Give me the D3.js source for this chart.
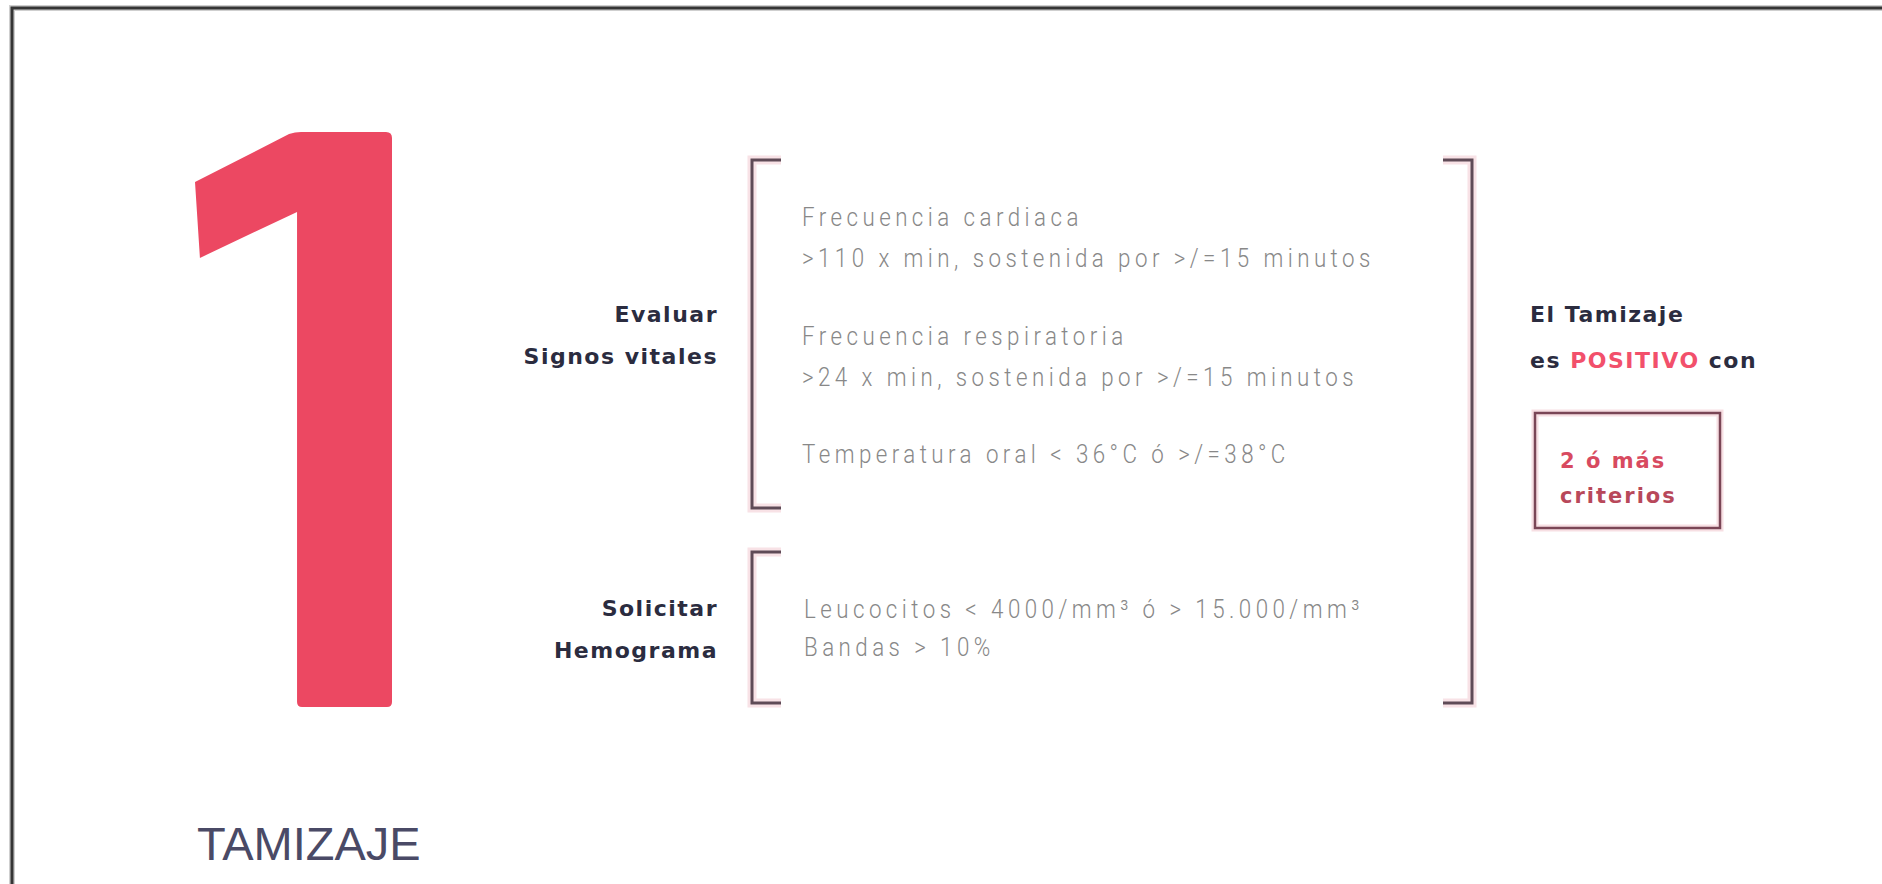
<!DOCTYPE html>
<html>
<head>
<meta charset="utf-8">
<script src="https://cdn.jsdelivr.net/npm/d3@7"></script>
<style>
	body { margin: 0; background: #fff; }
	svg { display: block; }
</style>
</head>
<body>
<svg id="chart"></svg>
<script>
// CONTENT
const stepNumber = '1';
const stepLabel = 'TAMIZAJE';
const groupLabels = [
	['Evaluar', 'Signos vitales'],
	['Solicitar', 'Hemograma'],
];
const vitalSigns = [
	['Frecuencia cardiaca', '>110 x min, sostenida por >/=15 minutos'],
	['Frecuencia respiratoria', '>24 x min, sostenida por >/=15 minutos'],
	['Temperatura oral < 36°C ó >/=38°C'],
];
const labTests = ['Leucocitos < 4000/mm³ ó > 15.000/mm³', 'Bandas > 10%'];
const resultLines = [
	[{ t: 'El Tamizaje' }],
	[{ t: 'es ' }, { t: 'POSITIVO', hi: true }, { t: ' con' }],
];
const thresholdLines = ['2 ó más', 'criterios'];

function onLoad () {
	const width = 1882, height = 884;
	const svg = d3.select('#chart')
		.attr('width', width)
		.attr('height', height);

	const red = '#ec4862';
	const ink = '#2b2c3f';
	const grey = '#888888';
	const bracketCol = '#5f4b57';
	const boldFont = "'DejaVu Sans', sans-serif";
	const lightFont = "Roboto, 'Liberation Sans', sans-serif";
	const squeeze = 0.86; // fake a condensed face

	// FRAME (only top + left edges are visible)
	svg.append('path')
		.attr('d', `M12,${height} V8 H${width}`)
		.attr('fill', 'none')
		.attr('stroke', '#cfcfcf')
		.attr('stroke-width', 6);
	svg.append('path')
		.attr('d', `M12,${height} V8 H${width}`)
		.attr('fill', 'none')
		.attr('stroke', '#353535')
		.attr('stroke-width', 3);

	// BIG "1"
	const gx = d3.scaleLinear().domain([0, 1]).range([195, 392]);
	const gy = d3.scaleLinear().domain([0, 1]).range([132, 707]);
	const stemL = gx(0.518), stemR = gx(1), top = gy(0), bot = gy(1);
	const p = d3.path();
	p.moveTo(gx(0), gy(0.087));
	p.lineTo(stemL - 8, top + 2);
	p.quadraticCurveTo(stemL - 2, top, stemL + 4, top);
	p.lineTo(stemR - 6, top);
	p.quadraticCurveTo(stemR, top, stemR, top + 6);
	p.lineTo(stemR, bot - 5);
	p.quadraticCurveTo(stemR, bot, stemR - 5, bot);
	p.lineTo(stemL + 5, bot);
	p.quadraticCurveTo(stemL, bot, stemL, bot - 5);
	p.lineTo(stemL, gy(0.139));
	p.lineTo(gx(0.025), gy(0.219));
	p.closePath();
	svg.append('path')
		.attr('class', 'digit')
		.attr('d', p.toString())
		.attr('fill', red)
		.append('title').text(stepNumber);

	svg.append('text')
		.attr('x', 197)
		.attr('y', 860)
		.style('font-family', "'Liberation Sans', Arial, sans-serif")
		.style('font-size', '47px')
		.attr('fill', '#4a4a66')
		.text(stepLabel);

	// BRACKETS
	const brackets = [
		{ x: 752, dir: 1, y0: 160, y1: 508 },
		{ x: 752, dir: 1, y0: 552, y1: 703 },
		{ x: 1472, dir: -1, y0: 160, y1: 703 },
	];
	const bpath = d => `M${d.x + d.dir * 29},${d.y0} H${d.x} V${d.y1} H${d.x + d.dir * 29}`;
	svg.selectAll('path.bracket-glow')
		.data(brackets)
		.join('path')
		.attr('class', 'bracket-glow')
		.attr('d', bpath)
		.attr('fill', 'none')
		.attr('stroke', '#f8e2e6')
		.attr('stroke-width', 9);
	svg.selectAll('path.bracket')
		.data(brackets)
		.join('path')
		.attr('class', 'bracket')
		.attr('d', bpath)
		.attr('fill', 'none')
		.attr('stroke', bracketCol)
		.attr('stroke-width', 3);

	// GROUP LABELS (right aligned, centred on their bracket)
	svg.selectAll('text.group')
		.data(groupLabels)
		.join('text')
		.attr('class', 'group')
		.attr('text-anchor', 'end')
		.style('font-family', boldFont)
		.style('font-weight', 'bold')
		.style('font-size', '22px')
		.style('letter-spacing', '1.5px')
		.attr('fill', ink)
		.each(function (d, i) {
			const b = brackets[i];
			const mid = (b.y0 + b.y1) / 2;
			d3.select(this).selectAll('tspan')
				.data(d)
				.join('tspan')
				.attr('x', 718)
				.attr('y', (c, j) => mid - 12 + j * 42)
				.text(c => c);
		});

	// CRITERIA TEXT
	const lightStyle = sel => sel
		.style('font-family', lightFont)
		.style('font-weight', 300)
		.style('font-size', '26px')
		.attr('fill', grey);

	// fit letter spacing of the squeezed face to the reference line length
	const probe = svg.append('text').call(lightStyle).text(vitalSigns[0][1]);
	const raw = probe.node().getComputedTextLength();
	probe.remove();
	const ls = Math.max(0, (573 / squeeze - raw) / vitalSigns[0][1].length);

	const vy = d3.scalePoint().domain(d3.range(vitalSigns.length)).range([226, 463]);
	const vitalRows = vitalSigns.flatMap((d, i) => d.map((t, j) => ({ t, y: vy(i) + j * 41 })));
	svg.selectAll('text.vital')
		.data(vitalRows)
		.join('text')
		.attr('class', 'vital')
		.call(lightStyle)
		.style('letter-spacing', `${ls}px`)
		.attr('transform', d => `translate(802,${d.y}) scale(${squeeze},1)`)
		.text(d => d.t);

	const ly = d3.scaleLinear().domain([0, 1]).range([618, 656]);
	svg.selectAll('text.lab')
		.data(labTests)
		.join('text')
		.attr('class', 'lab')
		.call(lightStyle)
		.style('letter-spacing', `${ls}px`)
		.attr('transform', (d, i) => `translate(804,${ly(i)}) scale(${squeeze},1)`)
		.text(d => d);

	// RESULT
	const ry = d3.scaleLinear().domain([0, 1]).range([322, 368]);
	svg.selectAll('text.result')
		.data(resultLines)
		.join('text')
		.attr('class', 'result')
		.attr('x', 1530)
		.attr('y', (d, i) => ry(i))
		.style('font-family', boldFont)
		.style('font-weight', 'bold')
		.style('font-size', '22px')
		.style('letter-spacing', '1.5px')
		.attr('fill', ink)
		.selectAll('tspan')
		.data(d => d)
		.join('tspan')
		.attr('fill', d => d.hi ? '#f2506b' : ink)
		.style('white-space', 'pre')
		.text(d => d.t);

	svg.append('rect')
		.attr('x', 1535)
		.attr('y', 413)
		.attr('width', 185)
		.attr('height', 115)
		.attr('fill', 'none')
		.attr('stroke', '#f7dfe3')
		.attr('stroke-width', 7);
	svg.append('rect')
		.attr('x', 1535)
		.attr('y', 413)
		.attr('width', 185)
		.attr('height', 115)
		.attr('fill', 'none')
		.attr('stroke', '#7a4656')
		.attr('stroke-width', 2.5);

	const ty = d3.scaleLinear().domain([0, 1]).range([468, 503]);
	svg.selectAll('text.threshold')
		.data(thresholdLines)
		.join('text')
		.attr('class', 'threshold')
		.attr('x', 1560)
		.attr('y', (d, i) => ty(i))
		.style('font-family', boldFont)
		.style('font-weight', 'bold')
		.style('font-size', '21px')
		.style('letter-spacing', '2px')
		.attr('fill', (d, i) => i ? '#b8485a' : '#d84a60')
		.text(d => d);
}

if (document.readyState === 'loading') {
	document.addEventListener('DOMContentLoaded', onLoad);
} else {
	onLoad();
}
</script>
</body>
</html>
